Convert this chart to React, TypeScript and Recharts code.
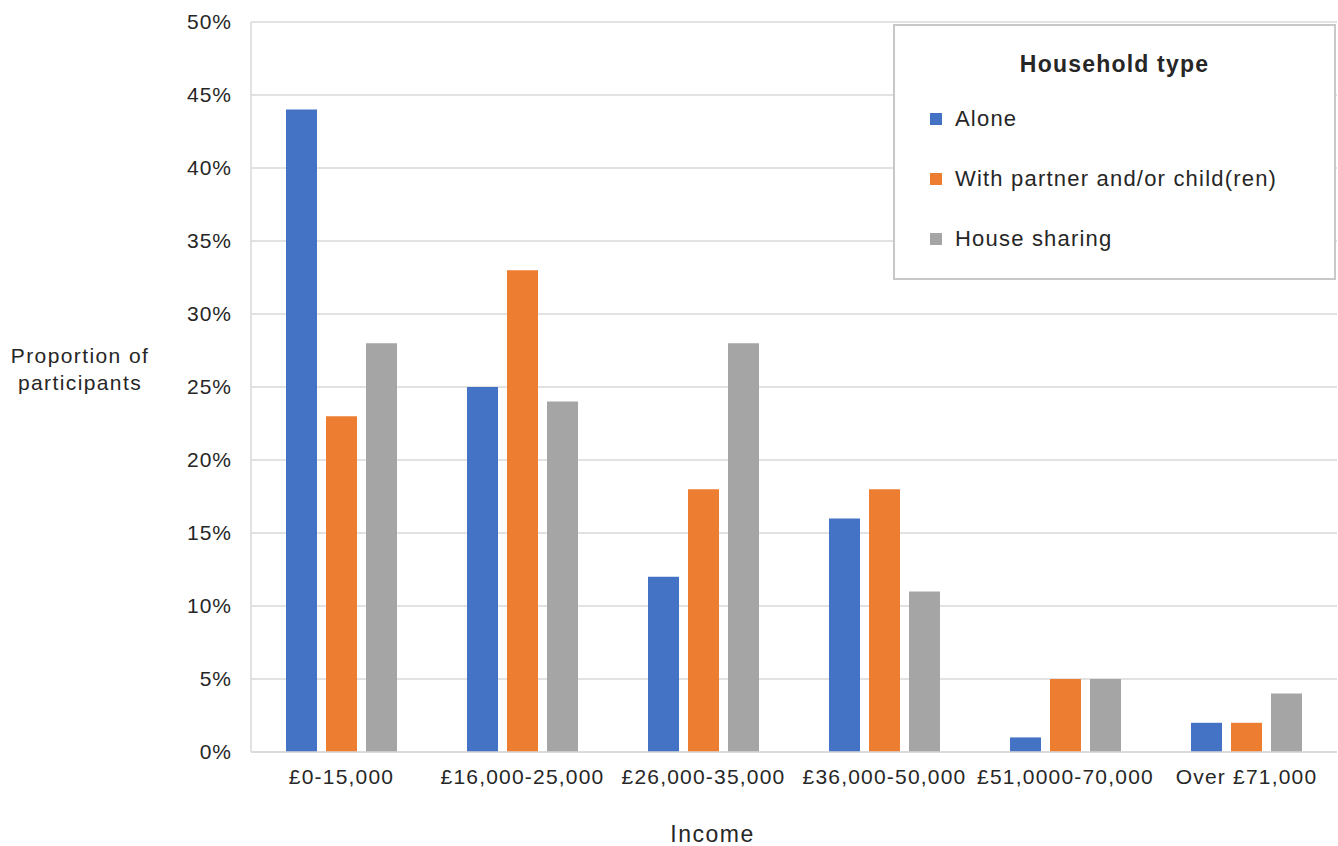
import React from 'react';
import { BarChart, Bar, XAxis, YAxis, CartesianGrid, Label } from 'recharts';

const categories = ['£0-15,000', '£16,000-25,000', '£26,000-35,000', '£36,000-50,000', '£51,0000-70,000', 'Over £71,000'];
const alone = [44, 25, 12, 16, 1, 2];
const partner = [23, 33, 18, 18, 5, 2];
const sharing = [28, 24, 28, 11, 5, 4];
const yTicks = [0, 5, 10, 15, 20, 25, 30, 35, 40, 45, 50];

const seriesNames = ['Alone', 'With partner and/or child(ren)', 'House sharing'];
const colors = ['#4472C4', '#ED7D31', '#A5A5A5'];

const data = categories.map((c, i) => ({ name: c, alone: alone[i], partner: partner[i], sharing: sharing[i] }));

const FONT = '"Liberation Sans", Arial, sans-serif';
const TEXT = '#262626';

const LegendBox = () => (
  <div
    style={{
      position: 'absolute',
      left: 893,
      top: 24,
      width: 439,
      height: 252,
      border: '2px solid #c8c8c8',
      background: '#fff',
      fontFamily: FONT,
      color: TEXT,
    }}
  >
    <div
      style={{
        position: 'absolute',
        top: 24,
        left: 0,
        width: '100%',
        textAlign: 'center',
        fontWeight: 'bold',
        fontSize: 23,
        letterSpacing: 1.2,
        lineHeight: '28px',
      }}
    >
      Household type
    </div>
    {seriesNames.map((n, i) => (
      <div
        key={n}
        style={{
          position: 'absolute',
          left: 35,
          top: 79 + i * 60,
          display: 'flex',
          alignItems: 'center',
          fontSize: 22,
          letterSpacing: 1.2,
          lineHeight: '28px',
          whiteSpace: 'nowrap',
        }}
      >
        <span style={{ display: 'inline-block', width: 12, height: 12, background: colors[i], marginRight: 13 }} />
        <span>{n}</span>
      </div>
    ))}
  </div>
);

export default function App() {
  return (
    <div style={{ position: 'absolute', left: 0, top: 0, width: 1338, height: 846, background: '#fff' }}>
      <BarChart
        width={1338}
        height={846}
        data={data}
        margin={{ top: 22, right: 1, bottom: 64, left: 0 }}
        barSize={31}
        barGap={9}
      >
        <CartesianGrid vertical={false} stroke="#d9d9d9" strokeWidth={1.5} />
        <XAxis
          dataKey="name"
          height={30}
          tickLine={false}
          tickSize={0}
          tickMargin={17}
          axisLine={{ stroke: '#d9d9d9', strokeWidth: 1.5 }}
          tick={{ fill: TEXT, fontSize: 21, fontFamily: FONT, letterSpacing: 1.2 }}
          interval={0}
        >
          <Label
            content={(props: any) => {
              const vb = props.viewBox;
              return (
                <text
                  x={vb.x + vb.width * 0.425}
                  y={vb.y + 90}
                  textAnchor="middle"
                  fill={TEXT}
                  fontSize={23}
                  fontFamily={FONT}
                  letterSpacing={1.5}
                >
                  Income
                </text>
              );
            }}
          />
        </XAxis>
        <YAxis
          width={251}
          domain={[0, 50]}
          ticks={yTicks}
          tickFormatter={(v: number) => `${v}%`}
          tickLine={false}
          tickSize={0}
          tickMargin={19}
          axisLine={{ stroke: '#d9d9d9', strokeWidth: 1.5 }}
          tick={{ fill: TEXT, fontSize: 21, fontFamily: FONT, letterSpacing: 1 }}
        >
          <Label
            content={(props: any) => {
              const vb = props.viewBox;
              const cy = vb.y + vb.height / 2;
              return (
                <text x={80} y={cy - 24} textAnchor="middle" fill={TEXT} fontSize={21} fontFamily={FONT} letterSpacing={1.4}>
                  <tspan x={80} dy={0}>Proportion of</tspan>
                  <tspan x={80} dy={27}>participants</tspan>
                </text>
              );
            }}
          />
        </YAxis>
        <Bar dataKey="alone" name={seriesNames[0]} fill={colors[0]} isAnimationActive={false} />
        <Bar dataKey="partner" name={seriesNames[1]} fill={colors[1]} isAnimationActive={false} />
        <Bar dataKey="sharing" name={seriesNames[2]} fill={colors[2]} isAnimationActive={false} />
      </BarChart>
      <LegendBox />
    </div>
  );
}
